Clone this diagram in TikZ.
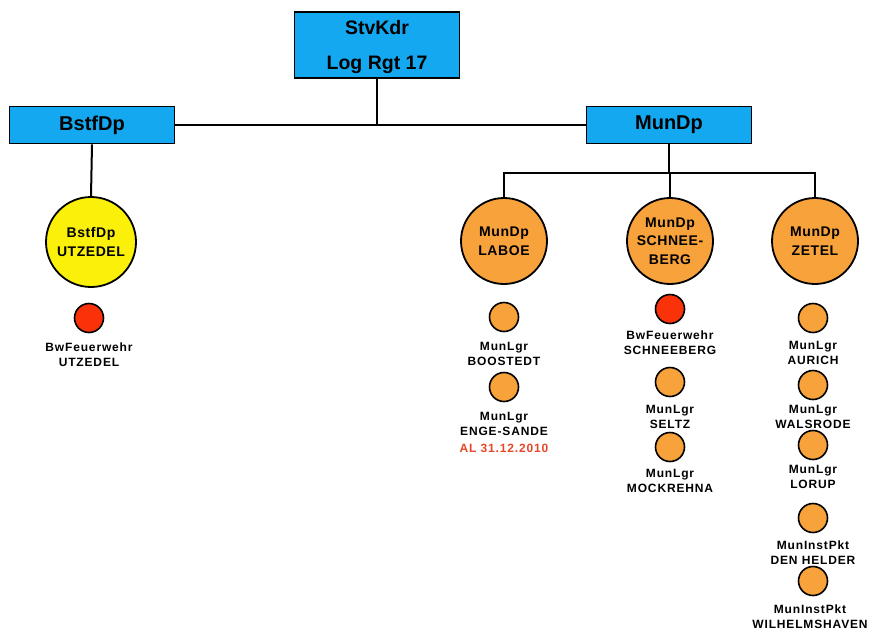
\documentclass[tikz,border=0pt]{standalone}
\usepackage{fontspec}
\setmainfont{Liberation Sans}
\newfontfamily\lblfont[LetterSpace=7]{Liberation Sans}
\newfontfamily\circfont[LetterSpace=4]{Liberation Sans}
\definecolor{boxblue}{RGB}{20,168,240}
\definecolor{orng}{RGB}{248,162,60}
\definecolor{yell}{RGB}{250,240,10}
\definecolor{redc}{RGB}{250,50,10}
\definecolor{redtext}{RGB}{232,70,40}
\tikzset{
  box/.style={draw=black,line width=1.8pt,fill=boxblue,minimum width=165pt,inner sep=0pt,font=\bfseries\fontsize{20}{20}\selectfont},
  ttl/.style={inner sep=0pt,font=\bfseries\fontsize{19.5}{20}\selectfont},
  bigc/.style={circle,draw=black,line width=1.8pt,minimum size=86pt,inner sep=0pt,align=center,font=\circfont\bfseries\fontsize{14}{18.5}\selectfont},
  smallc/.style={circle,draw=black,line width=1.6pt,minimum size=29pt,inner sep=0pt},
  lbl/.style={align=center,inner sep=0pt,font=\lblfont\bfseries\fontsize{12}{15}\selectfont},
  conn/.style={line width=2pt}
}
\begin{document}
\begin{tikzpicture}[x=1pt,y=-1pt]
\useasboundingbox (0,0) rectangle (874,633);
% top box
\node[box,minimum height=66pt] (top) at (377,45) {};
\node[ttl] (topa) at (377,28) {StvKdr};
\node[ttl] (topb) at (377,65) {Log Rgt 17};
\node[box,minimum height=37pt] (bstf) at (92,125) {BstfDp};
\node[box,minimum height=37pt] (mun) at (669,125) {MunDp};
\coordinate (j) at (669,173);
% big circles
\node[bigc,fill=yell,minimum size=90pt] (utz) at (91,242) {BstfDp\\UTZEDEL};
\node[bigc,fill=orng] (laboe) at (504,241) {MunDp\\LABOE};
\node[bigc,fill=orng] (schnee) at (670,241) {MunDp\\SCHNEE-\\BERG};
\node[bigc,fill=orng] (zetel) at (815,241) {MunDp\\ZETEL};
% connectors
\draw[conn] (top.south) -- (top.south |- bstf.east);
\draw[conn] (bstf.east) -- (mun.west);
\draw[conn] (bstf.south) -- (utz.north);
\draw[conn] (mun.south) -- (j);
\draw[conn] (laboe.north) -- (laboe.north |- j) -- (zetel.north |- j) -- (zetel.north);
\draw[conn] (schnee.north) -- (schnee.north |- j);
% small circles: BstfDp
\node[smallc,fill=redc] (c1) at (89,318) {};
\node[lbl] (l1) at (89,355) {BwFeuerwehr\\UTZEDEL};
% Laboe
\node[smallc,fill=orng] (c2) at (504,317) {};
\node[lbl] (l2) at (504,354) {MunLgr\\BOOSTEDT};
\node[smallc,fill=orng] (c3) at (504,387) {};
\node[lbl] (l3) at (504,424) {MunLgr\\ENGE-SANDE};
\node[lbl,text=redtext] (l3b) at (504,448) {AL 31.12.2010};
% Schneeberg
\node[smallc,fill=redc] (c4) at (670,309) {};
\node[lbl] (l4) at (670,343) {BwFeuerwehr\\SCHNEEBERG};
\node[smallc,fill=orng] (c5) at (670,382) {};
\node[lbl] (l5) at (670,417) {MunLgr\\SELTZ};
\node[smallc,fill=orng] (c6) at (670,447) {};
\node[lbl] (l6) at (670,481) {MunLgr\\MOCKREHNA};
% Zetel
\node[smallc,fill=orng] (c7) at (813,318) {};
\node[lbl] (l7) at (813,353) {MunLgr\\AURICH};
\node[smallc,fill=orng] (c8) at (813,385) {};
\node[lbl] (l8) at (813,417) {MunLgr\\WALSRODE};
\node[smallc,fill=orng] (c9) at (813,445) {};
\node[lbl] (l9) at (813,477) {MunLgr\\LORUP};
\node[smallc,fill=orng] (c10) at (813,518) {};
\node[lbl] (l10) at (813,553) {MunInstPkt\\DEN HELDER};
\node[smallc,fill=orng] (c11) at (813,581) {};
\node[lbl] (l11) at (810,617) {MunInstPkt\\WILHELMSHAVEN};
\end{tikzpicture}
\end{document}
